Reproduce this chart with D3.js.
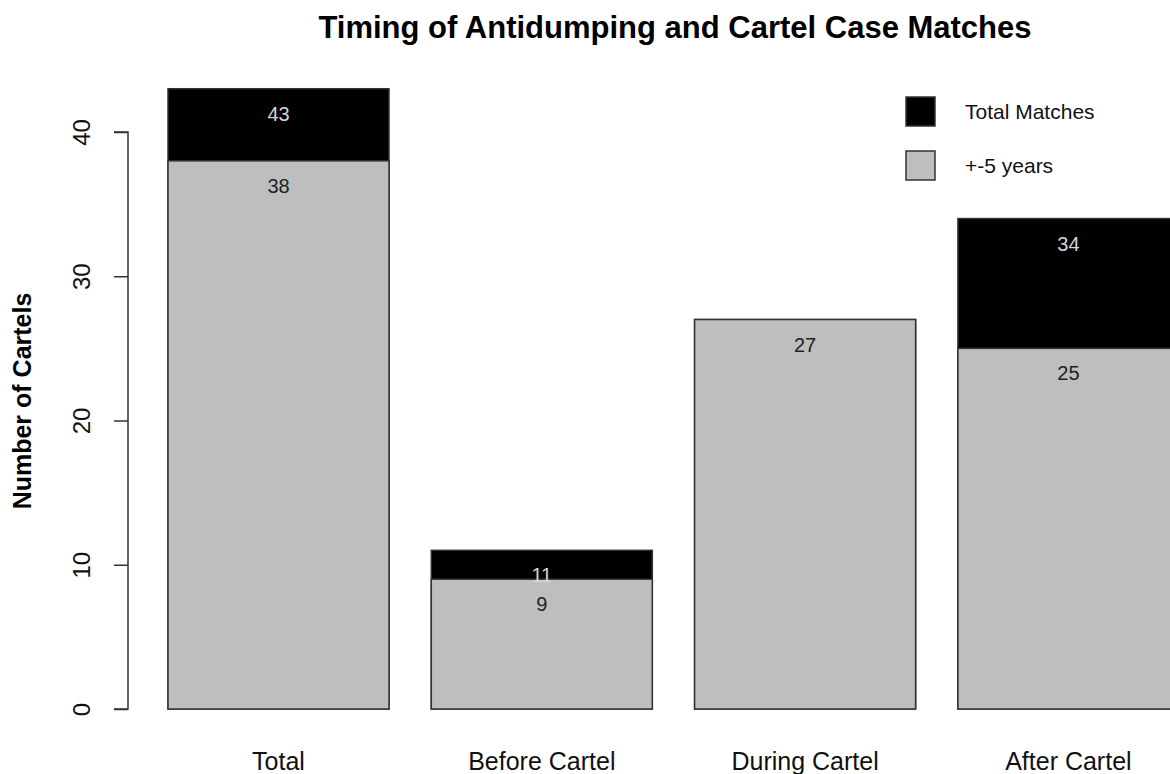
<!DOCTYPE html>
<html>
<head>
<meta charset="utf-8">
<script src="https://cdn.jsdelivr.net/npm/d3@7.9.0/dist/d3.min.js"></script>
<style>
  html, body { margin: 0; padding: 0; background: #fff; }
  svg { display: block; font-family: "Liberation Sans", Arial, sans-serif; }
</style>
</head>
<body>
<svg id="chart" width="1170" height="774"></svg>
<script>
const categories = ['Total', 'Before Cartel', 'During Cartel', 'After Cartel'];
const totalMatches = [43, 11, 27, 34];
const withinFive = [38, 9, 27, 25];
const yTicks = [0, 10, 20, 30, 40];
const legendItems = [
  { label: 'Total Matches', color: '#000000' },
  { label: '+-5 years', color: '#bebebe' }
];

const width = 1170, height = 774;
const svg = d3.select('#chart');

const pad = 42.3 / 263.3;
const x = d3.scaleBand()
  .domain(categories)
  .range([146.85, 1200.05])
  .paddingInner(pad)
  .paddingOuter(pad / 2);

const y = d3.scaleLinear()
  .domain([0, 40])
  .range([709, 132]);

const rows = categories.map((c, i) => ({ cat: c, total: totalMatches[i], near: withinFive[i] }));

// bars: black total behind, grey +-5 years on top
const bars = svg.append('g');
bars.selectAll('rect.total')
  .data(rows)
  .join('rect')
  .attr('class', 'total')
  .attr('x', d => x(d.cat))
  .attr('y', d => y(d.total))
  .attr('width', x.bandwidth())
  .attr('height', d => y(0) - y(d.total))
  .attr('fill', '#000')
  .attr('stroke', '#333')
  .attr('stroke-width', 1.5);

bars.selectAll('rect.near')
  .data(rows)
  .join('rect')
  .attr('class', 'near')
  .attr('x', d => x(d.cat))
  .attr('y', d => y(d.near))
  .attr('width', x.bandwidth())
  .attr('height', d => y(0) - y(d.near))
  .attr('fill', '#bebebe')
  .attr('stroke', '#333')
  .attr('stroke-width', 1.5);

// value labels
const labels = svg.append('g')
  .attr('text-anchor', 'middle')
  .attr('font-size', 20);

labels.selectAll('text.tl')
  .data(rows.filter(d => d.total > d.near))
  .join('text')
  .attr('x', d => x(d.cat) + x.bandwidth() / 2)
  .attr('y', d => y(d.total) + 32)
  .attr('fill', '#d4d4d4')
  .text(d => d.total);

labels.selectAll('text.nl')
  .data(rows)
  .join('text')
  .attr('x', d => x(d.cat) + x.bandwidth() / 2)
  .attr('y', d => y(d.near) + 32)
  .attr('fill', '#222')
  .text(d => d.near);

// y axis
const yAxis = svg.append('g')
  .attr('transform', 'translate(128,0)')
  .call(d3.axisLeft(y).tickValues(yTicks).tickSize(14).tickPadding(0).tickFormat(d3.format('d')));
yAxis.select('.domain').attr('stroke', '#333').attr('stroke-width', 1.5).attr('d', `M-14,${y(40)}H0V${y(0)}H-14`);
yAxis.selectAll('.tick line').attr('stroke', '#333').attr('stroke-width', 1.5);
yAxis.selectAll('.tick text')
  .attr('font-size', 24)
  .attr('fill', '#111')
  .attr('x', 0)
  .attr('dy', 0)
  .attr('text-anchor', 'middle')
  .attr('transform', 'translate(-38,0) rotate(-90)');
yAxis.attr('font-family', null);

// x labels
svg.append('g')
  .selectAll('text')
  .data(categories)
  .join('text')
  .attr('x', d => x(d) + x.bandwidth() / 2)
  .attr('y', 770)
  .attr('text-anchor', 'middle')
  .attr('font-size', 25)
  .attr('fill', '#111')
  .text(d => d);

// title
svg.append('text')
  .attr('x', 675)
  .attr('y', 38)
  .attr('text-anchor', 'middle')
  .attr('font-size', 31)
  .attr('font-weight', 'bold')
  .text('Timing of Antidumping and Cartel Case Matches');

// y title
svg.append('text')
  .attr('transform', 'translate(31,401) rotate(-90)')
  .attr('text-anchor', 'middle')
  .attr('font-size', 25)
  .attr('font-weight', 'bold')
  .text('Number of Cartels');

// legend
const legend = svg.append('g').selectAll('g')
  .data(legendItems)
  .join('g')
  .attr('transform', (d, i) => `translate(906,${97 + i * 54})`);
legend.append('rect')
  .attr('width', 29)
  .attr('height', 29)
  .attr('fill', d => d.color)
  .attr('stroke', '#333')
  .attr('stroke-width', 1.5);
legend.append('text')
  .attr('x', 59)
  .attr('y', 22)
  .attr('font-size', 21)
  .attr('fill', '#111')
  .text(d => d.label);
</script>
</body>
</html>
